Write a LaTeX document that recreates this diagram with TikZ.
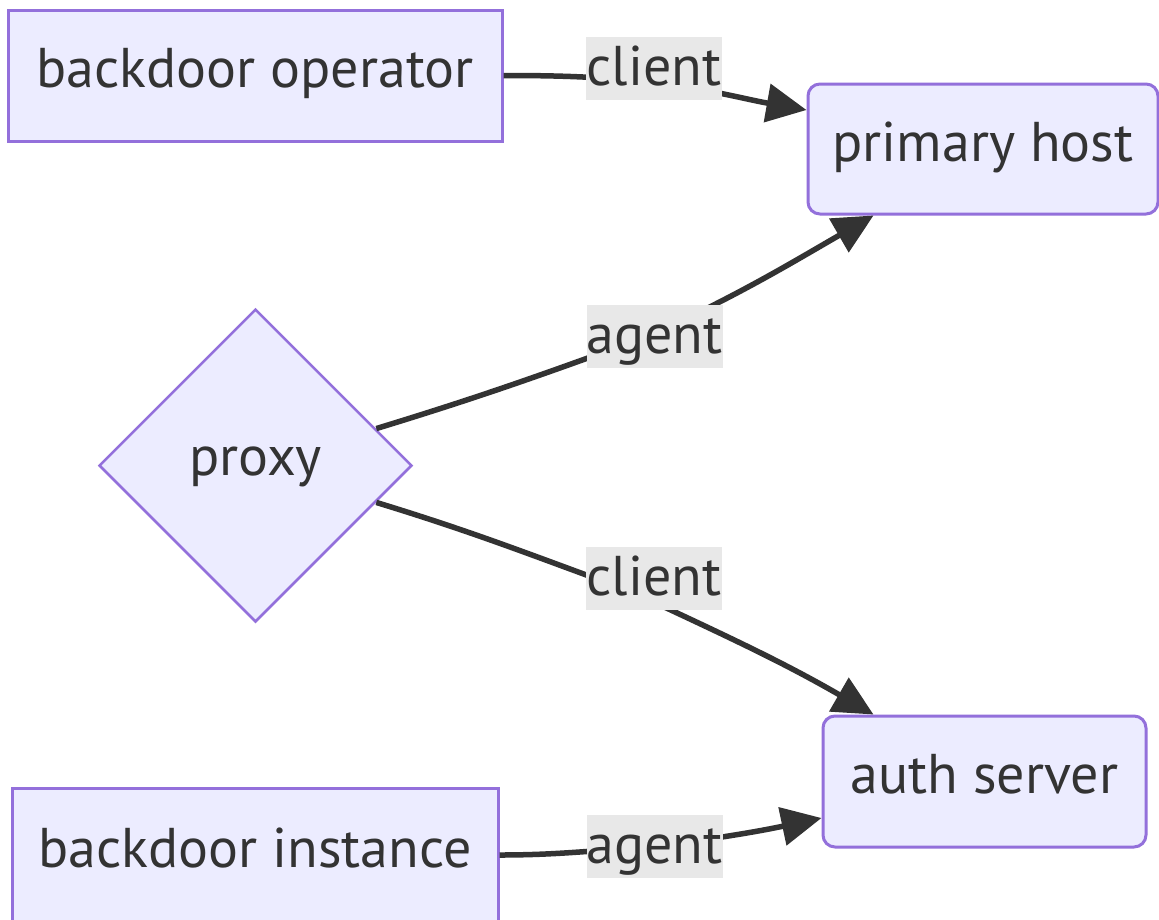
\documentclass[tikz,border=0pt]{standalone}
\usepackage{fontspec}
\setmainfont{PT Sans}
\usetikzlibrary{shapes.geometric,arrows.meta,calc}
\definecolor{nodefill}{HTML}{ECECFF}
\definecolor{nodeline}{HTML}{9370DB}
\definecolor{txt}{HTML}{333333}
\definecolor{lblbg}{HTML}{E8E8E8}
\begin{document}
\begin{tikzpicture}[x=1pt,y=1pt,
  every node/.style={font=\fontsize{56}{66}\selectfont, text=txt},
  box/.style={draw=nodeline, fill=nodefill, line width=3pt, inner sep=0pt,
    text height=40pt, text depth=16pt},
  rbox/.style={box, rounded corners=12pt},
  dia/.style={diamond, draw=nodeline, fill=nodefill, line width=2.5pt, inner sep=0pt,
    minimum width=313pt, minimum height=313pt, text height=40pt, text depth=21pt},
  lbl/.style={fill=lblbg, inner sep=0pt, minimum width=136pt, minimum height=63pt,
    text height=40pt, text depth=6pt},
  edge/.style={draw=txt, line width=5.5pt, -{Triangle[length=40pt,width=38pt]}},
]
\useasboundingbox (0,0) rectangle (1159,-919);
\clip (0,0) rectangle (1159,-919);
\fill[white] (0,0) rectangle (1159,-919);

% nodes
\node[box, minimum width=494pt, minimum height=131pt] (op) at (255,-75.5) {backdoor operator};
\node[rbox, minimum width=350pt, minimum height=130pt] (ph) at (983,-149) {primary host};
\node[dia] (proxy) at (255.5,-465.5) {proxy};
\node[rbox, minimum width=323pt, minimum height=131pt] (auth) at (984.5,-781.5) {auth server};
\node[box, minimum width=486pt, minimum height=134pt] (bi) at (255,-855) {backdoor instance};

% edge way points (hidden under the labels)
\coordinate (w1) at (654,-82);
\coordinate (w2) at (654,-334);
\coordinate (w3) at (630,-591);
\coordinate (w4) at (654,-847);

% edges
\draw[edge] (op.east) to[out=0,in=175] (w1) to[out=-8,in=170] ($(ph.west)+(0,39)$);
\draw[edge] (proxy) to[out=17,in=200] (w2) to[out=25,in=210] ($(ph.south west)+(67,0)$);
\draw[edge] (proxy) to[out=-17,in=160] (w3) to[out=-25,in=150] ($(auth.north west)+(52,0)$);
\draw[edge] (bi.east) to[out=0,in=183] (w4) to[out=8,in=192] ($(auth.west)+(0,-36.5)$);

% edge labels
\node[lbl] (l1) at (654,-68) {client};
\node[lbl] (l2) at (654.5,-336) {agent};
\node[lbl] (l3) at (654,-578.5) {client};
\node[lbl] (l4) at (654.5,-846.5) {agent};
\end{tikzpicture}
\end{document}
